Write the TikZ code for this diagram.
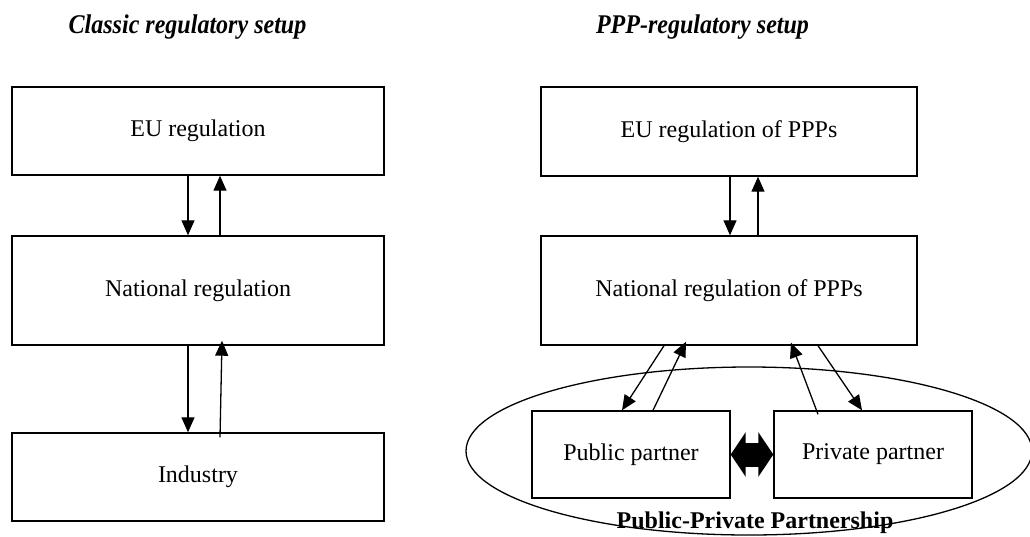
\documentclass[tikz,border=0pt]{standalone}
\usepackage{fontspec}
\usepackage{graphicx}
\setmainfont{Liberation Serif}
\usetikzlibrary{arrows.meta,shapes.geometric}
\begin{document}
\begin{tikzpicture}[x=1pt,y=-1pt,
  box/.style={draw,line width=1.4pt,inner sep=0pt,font=\fontsize{24}{28}\selectfont},
  widebox/.style={box,minimum width=372pt},
  partnerbox/.style={box,minimum width=198pt,minimum height=87pt},
  arr/.style={line width=1.3pt,-{Triangle[length=15pt,width=13pt]}},
  fat/.style={line width=24pt,{Triangle[length=15pt,width=44pt]}-{Triangle[length=15pt,width=44pt]}},
  ttl/.style={anchor=base,font=\fontsize{27}{30}\selectfont\bfseries\itshape}]
\useasboundingbox (0,0) rectangle (1030,536);
% titles
\node[ttl] (t1) at (187.5,33) {\scalebox{0.89}[1]{Classic regulatory setup}};
\node[ttl] (t2) at (702.5,33) {\scalebox{0.89}[1]{PPP-regulatory setup}};
% left column
\node[widebox,minimum height=88pt] (eu) at (198,131) {EU regulation};
\node[widebox,minimum height=109pt] (nat) at (198,290.5) {National regulation};
\node[widebox,minimum height=88pt] (ind) at (198,477) {Industry};
% right column
\node[box,minimum width=376pt,minimum height=89pt] (eup) at (729,131.5) {EU regulation of PPPs};
\node[box,minimum width=376pt,minimum height=109pt] (natp) at (729,290.5) {National regulation of PPPs};
\node[draw,line width=1.3pt,ellipse,inner sep=0pt,minimum width=566pt,minimum height=168pt] (ppp) at (749,451) {};
\node[partnerbox] (pub) at (631,454.5) {Public partner};
\node[partnerbox] (priv) at (873,454.5) {Private partner};
\node[anchor=base,font=\fontsize{24}{28}\selectfont\bfseries] (ppplbl) at (755,528) {Public-Private Partnership};
% left arrows
\draw[arr] ([xshift=-10pt]eu.south) -- ([xshift=-10pt]nat.north);
\draw[arr] ([xshift=22pt]nat.north) -- ([xshift=22pt]eu.south);
\draw[arr] ([xshift=-10pt]nat.south) -- ([xshift=-10pt]ind.north);
\draw[arr] ([xshift=22pt,yshift=-5pt]ind.north) -- ([xshift=24pt,yshift=5pt]nat.south);
% right arrows
\draw[arr] ([xshift=1pt]eup.south) -- ([xshift=1pt]natp.north);
\draw[arr] ([xshift=29pt]natp.north) -- ([xshift=29pt]eup.south);
\draw[arr] ([xshift=-65pt]natp.south) -- ([xshift=-9pt]pub.north);
\draw[arr] ([xshift=22pt]pub.north) -- ([xshift=-43pt,yshift=4pt]natp.south);
\draw[arr] ([xshift=-55pt,yshift=-4pt]priv.north) -- ([xshift=62pt,yshift=3pt]natp.south);
\draw[arr] ([xshift=89pt]natp.south) -- ([xshift=-11pt]priv.north);
% fat double arrow
\draw[fat] (pub.east) -- (priv.west);
\end{tikzpicture}
\end{document}
